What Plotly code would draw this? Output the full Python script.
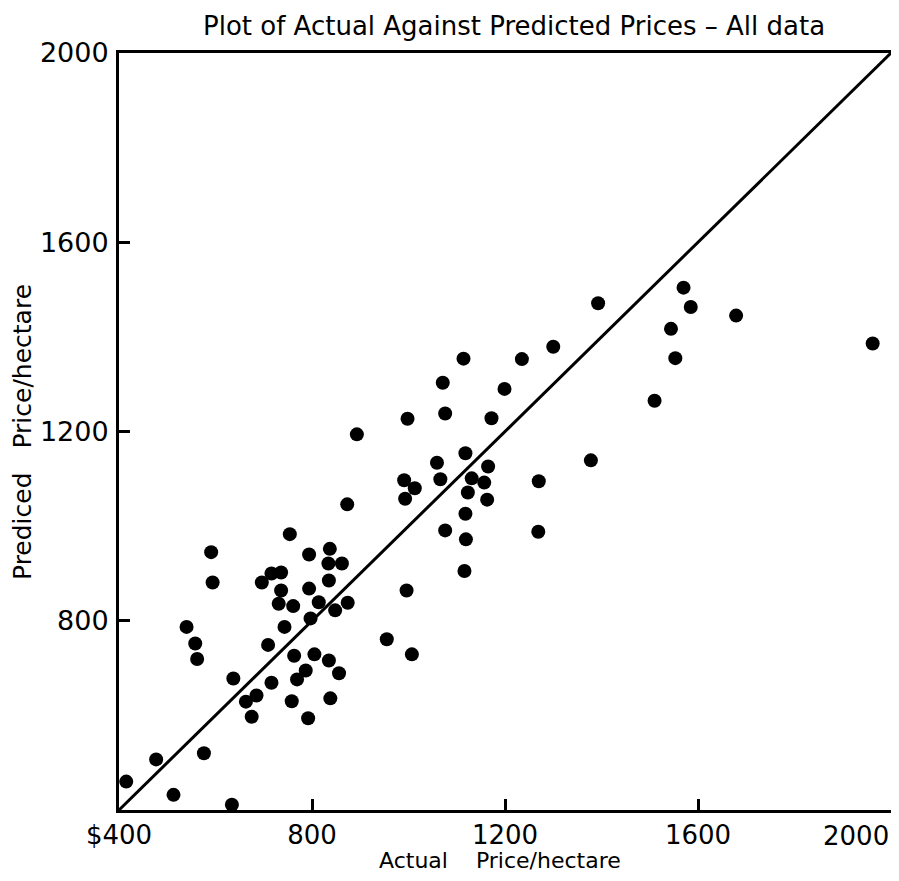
import plotly.graph_objects as go

# Actual price/hectare (x) and predicted price/hectare (y)
actual = [754, 591, 794, 837, 834, 862, 594, 696, 716, 736, 736, 794, 835, 731, 761,
          814, 874, 848, 797, 743, 540, 558, 562, 709, 955, 763, 805, 835, 787, 856,
          769, 637, 716, 685, 663, 758, 838, 675, 792, 576, 477, 415, 513, 634,
          1114, 1235, 1300, 1071, 1199, 998, 1076, 1172, 893, 1118, 1059, 1165, 991,
          1066, 1131, 1157, 1013, 993, 1123, 1163, 873, 1118, 1270, 1378, 1076, 1269,
          1119, 1116, 996, 1007,
          1393, 1570, 1585, 1679, 1544, 1553, 1962, 1510]
predicted = [983, 945, 940, 952, 921, 921, 881, 881, 900, 902, 864, 868, 885, 836, 831,
             839, 838, 822, 805, 787, 787, 752, 719, 749, 761, 726, 729, 716, 695, 689,
             676, 678, 669, 642, 629, 630, 636, 597, 594, 520, 507, 460, 432, 411,
             1354, 1353, 1379, 1303, 1290, 1227, 1238, 1228, 1194, 1154, 1134, 1126, 1097,
             1099, 1101, 1092, 1080, 1058, 1071, 1056, 1046, 1026, 1095, 1139, 991, 988,
             972, 905, 864, 729,
             1471, 1504, 1463, 1445, 1417, 1355, 1386, 1265]

line_x = [400, 2000]
line_y = [400, 2000]

x_ticks = [400, 800, 1200, 1600]
x_tick_text = ["$400", "800", "1200", "1600"]
x_end_label = "2000"
y_ticks = [800, 1200, 1600, 2000]
y_tick_text = ["800", "1200", "1600", "2000"]

FONT = "DejaVu Sans"
Y_TICK_SIZE = 27
X_TICK_SIZE = 26

# the page body has an 8px margin, so the figure is sized to fit the window
OFF = 8
W, H = 899 - OFF, 881 - 2 * OFF
# plot box in page pixels
P_LEFT, P_RIGHT, P_TOP, P_BOTTOM = 119, 891, 53, 810
m_l, m_r = P_LEFT - OFF, W - (P_RIGHT - OFF)
m_t, m_b = P_TOP - OFF, H - (P_BOTTOM - OFF)
pw, ph = P_RIGHT - P_LEFT, P_BOTTOM - P_TOP


def px_x(page_x):
    return (page_x - P_LEFT) / pw


def px_y(page_y):
    return (P_BOTTOM - page_y) / ph


fig = go.Figure()
fig.add_trace(go.Scatter(x=line_x, y=line_y, mode="lines",
                         line=dict(color="black", width=3), hoverinfo="skip"))
fig.add_trace(go.Scatter(x=actual, y=predicted, mode="markers",
                         marker=dict(color="black", size=14, line=dict(width=0))))

fig.update_layout(
    width=W, height=H,
    margin=dict(l=m_l, r=m_r, t=m_t, b=m_b, autoexpand=False),
    paper_bgcolor="white", plot_bgcolor="white",
    showlegend=False,
    font=dict(family=FONT, color="black"),
    xaxis=dict(range=[400, 2000], showgrid=False, zeroline=False, automargin=False,
               showline=True, mirror=True, linecolor="black", linewidth=3,
               ticks="inside", ticklen=11, tickwidth=3, tickcolor="black",
               tickvals=x_ticks + [2000], ticktext=x_tick_text + [""],
               ticklabelstandoff=0,
               tickfont=dict(family=FONT, size=X_TICK_SIZE, color="black")),
    yaxis=dict(range=[400, 2000], showgrid=False, zeroline=False, automargin=False,
               showline=True, mirror=True, linecolor="black", linewidth=3,
               ticks="inside", ticklen=11, tickwidth=3, tickcolor="black",
               tickvals=y_ticks, ticktext=y_tick_text,
               ticklabelstandoff=2,
               tickfont=dict(family=FONT, size=Y_TICK_SIZE, color="black")),
    annotations=[
        dict(text="Plot of Actual Against Predicted Prices \u2013 All data",
             x=px_x(514), xref="paper", xanchor="center",
             y=px_y(26), yref="paper", yanchor="middle", showarrow=False,
             font=dict(family=FONT, size=26, color="black")),
        dict(text=x_end_label, x=2000, xref="x", xanchor="right",
             y=px_y(819), yref="paper", yanchor="top", showarrow=False,
             font=dict(family=FONT, size=X_TICK_SIZE, color="black")),
        dict(text="Actual\u00a0\u00a0\u00a0 Price/hectare", x=px_x(500), xref="paper",
             xanchor="center", y=px_y(860), yref="paper", yanchor="middle",
             showarrow=False, font=dict(family=FONT, size=22, color="black")),
        dict(text="Prediced\u00a0\u00a0 Price/hectare", x=px_x(22), xref="paper",
             xanchor="center", y=px_y(432), yref="paper", yanchor="middle",
             textangle=-90, showarrow=False,
             font=dict(family=FONT, size=25, color="black")),
    ],
)

fig.write_html("out.html")
